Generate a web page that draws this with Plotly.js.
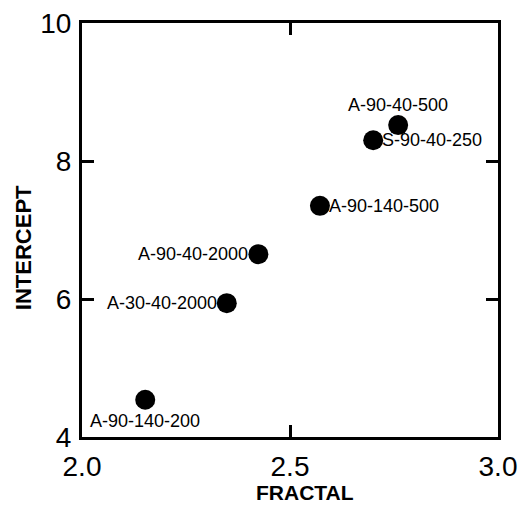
<!DOCTYPE html>
<html>
<head>
<meta charset="utf-8">
<script src="https://cdn.plot.ly/plotly-3.0.1.min.js"></script>
<style>html,body{margin:0;padding:0;background:#fff;}#chart{width:530px;height:505px;}</style>
</head>
<body>
<div id="chart"></div>
<script>
const sampleLabels = ["A-90-40-500", "S-90-40-250", "A-90-140-500", "A-90-40-2000", "A-30-40-2000", "A-90-140-200"];
const fractalValues = [2.76, 2.70, 2.572, 2.424, 2.348, 2.152];
const interceptValues = [8.52, 8.30, 7.35, 6.65, 5.94, 4.54];
const labelSides = ["above", "right", "right", "left", "left", "below"];
const xTickValues = [2.0, 2.5, 3.0];
const xTickLabels = ["2.0", "2.5", "3.0"];
const yTickValues = [4, 6, 8, 10];
const yTickLabels = ["4", "6", "8", "10"];
const xTitle = "FRACTAL";
const yTitle = "INTERCEPT";

const fontFamily = "Liberation Sans, Arial, Helvetica, sans-serif";

const trace = {
  type: "scatter",
  mode: "markers",
  x: fractalValues,
  y: interceptValues,
  text: sampleLabels,
  marker: {color: "#000", size: 20, line: {width: 0}},
  cliponaxis: false,
  hoverinfo: "x+y+text"
};

const sideStyle = {
  above: {xanchor: "center", yanchor: "bottom", xshift: 0, yshift: 9},
  right: {xanchor: "left", yanchor: "middle", xshift: 8, yshift: 0},
  left: {xanchor: "right", yanchor: "middle", xshift: -9, yshift: 0},
  below: {xanchor: "center", yanchor: "top", xshift: 0, yshift: -10}
};

const pointLabels = sampleLabels.map((label, i) => Object.assign({
  x: fractalValues[i],
  y: interceptValues[i],
  xref: "x",
  yref: "y",
  text: label,
  showarrow: false,
  borderpad: 0,
  font: {family: fontFamily, size: 18, color: "#000"}
}, sideStyle[labelSides[i]]));

const titleAnnotations = [
  {xref: "paper", yref: "paper", x: 0.536, y: -0.135, xanchor: "center", yanchor: "middle", borderpad: 0,
   text: "<b>" + xTitle + "</b>", showarrow: false, font: {family: fontFamily, size: 21, color: "#000"}},
  {xref: "paper", yref: "paper", x: -0.141, y: 0.457, xanchor: "center", yanchor: "middle", textangle: -90,
   text: "<b>" + yTitle + "</b>", showarrow: false, font: {family: fontFamily, size: 22, color: "#000"}}
];

const axisCommon = {
  showgrid: false,
  zeroline: false,
  showline: true,
  linecolor: "#000",
  linewidth: 3,
  mirror: "ticks",
  ticks: "inside",
  ticklen: 12,
  tickwidth: 3,
  tickcolor: "#000",
  tickfont: {family: fontFamily, size: 28, color: "#000"},
  fixedrange: true
};

const layout = {
  width: 530,
  height: 505,
  margin: {l: 82, r: 32, t: 23, b: 68},
  paper_bgcolor: "#fff",
  plot_bgcolor: "#fff",
  showlegend: false,
  xaxis: Object.assign({}, axisCommon, {
    range: [2.0, 3.0],
    tickmode: "array",
    tickvals: xTickValues,
    ticktext: xTickLabels,
    ticklabelstandoff: 2
  }),
  yaxis: Object.assign({}, axisCommon, {
    range: [4, 10],
    tickmode: "array",
    tickvals: yTickValues,
    ticktext: yTickLabels,
    ticklabelstandoff: 2
  }),
  annotations: pointLabels.concat(titleAnnotations)
};

Plotly.newPlot("chart", [trace], layout, {displayModeBar: false, staticPlot: true});
</script>
</body>
</html>
